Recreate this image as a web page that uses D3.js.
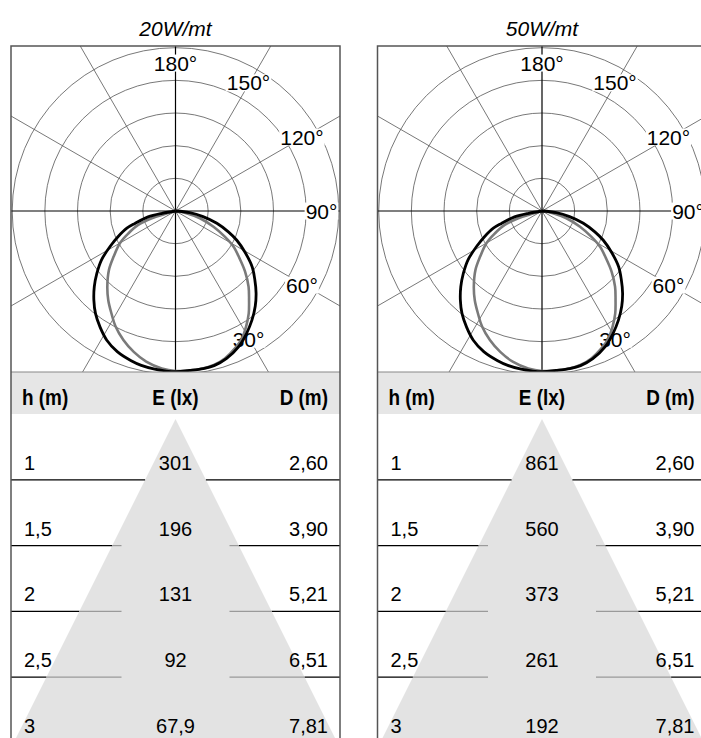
<!DOCTYPE html>
<html>
<head>
<meta charset="utf-8">
<title>Polar diagrams 20W/mt - 50W/mt</title>
<script src="https://d3js.org/d3.v7.min.js"></script>
<style>
  body { margin: 0; background: #fff; }
  svg { display: block; }
</style>
</head>
<body>
<svg id="chart" width="701" height="738"></svg>
<script>
// panel titles
var panelTitles = ["20W/mt", "50W/mt"];

// table: height, illuminance per panel, beam diameter
var heights = ["1", "1,5", "2", "2,5", "3"];
var lux20 = ["301", "196", "131", "92", "67,9"];
var lux50 = ["861", "560", "373", "261", "192"];
var diameters = ["2,60", "3,90", "5,21", "6,51", "7,81"];
var tableHeaders = ["h (m)", "E (lx)", "D (m)"];

// polar grid
var ringValues = [50, 100, 150, 200, 250];
var spokeAngles = [0, 30, 60, 90, 120, 150];
var angleLabels = [180, 150, 120, 90, 60, 30];

// photometric curves (angle in degrees from nadir, intensity)
var blackAngles = [-90, -80.5, -78, -73, -70.5, -66, -61.5, -56.5, -51.5, -47, -42.5, -38, -33, -28, -22.5, -16.5, -12.5, -7.5, 0,
                   5, 10, 14, 19, 25, 30, 35, 40, 44.5, 49, 54, 59.5, 64.5, 68.5, 73.5, 78.5, 83.5, 90];
var blackValues = [0, 21, 43, 65, 79, 96, 114, 136, 154, 170, 185, 199, 212, 224, 233, 239, 242, 244, 246,
                   245, 245, 244, 239, 229, 217, 204, 190, 176, 161, 145, 123, 104, 87, 66, 43, 22, 0];
var grayAngles = [-90, -74, -73, -69.5, -64.5, -60, -53.5, -48.5, -42, -37, -32, -27.5, -22, -16.5, -11, -5, 0,
                  4, 9, 14, 18.5, 23.5, 27.5, 31.5, 35.5, 39.5, 44, 49, 53.5, 58.5, 62.5, 67.5, 73.5, 78.5, 90];
var grayValues = [0, 17, 38, 61, 80, 98, 118, 136, 156, 171, 185, 199, 213, 225, 235, 242, 245,
                  245, 245, 243, 238, 229, 220, 207, 193, 177, 161, 141, 122, 104, 85, 63, 39, 17, 0];

var svg = d3.select("#chart");

var boxTop = 46, headTop = 372, headBottom = 414, rowH = 65.8;
var half = 164.5;
var centers = [175.5, 542];
var cy = 211;

var r = d3.scaleLinear().domain([0, 250]).range([0, 163.3]);
var rowY = d3.scaleBand().domain(heights).range([headBottom, headBottom + rowH * heights.length]);

function toRad(a) { return Math.PI - a * Math.PI / 180; }

var line = d3.lineRadial()
    .angle(function(d) { return toRad(d[0]); })
    .radius(function(d) { return r(d[1]); })
    .curve(d3.curveCatmullRom);

var blackCurve = d3.zip(blackAngles, blackValues);
var grayCurve = d3.zip(grayAngles, grayValues);

panelTitles.forEach(function(title, i) {
    var cx = centers[i];
    var left = cx - half, right = cx + half;
    var lux = i === 0 ? lux20 : lux50;
    var g = svg.append("g");

    // clip for the polar area
    svg.append("clipPath").attr("id", "clip" + i)
        .append("rect").attr("x", left).attr("y", boxTop).attr("width", half * 2).attr("height", headTop - boxTop);

    // title
    g.append("text")
        .attr("x", cx).attr("y", 36)
        .attr("text-anchor", "middle")
        .style("font-family", "'Liberation Sans', Arial, sans-serif")
        .style("font-style", "italic")
        .style("font-size", "21px")
        .text(title);

    var polar = g.append("g").attr("clip-path", "url(#clip" + i + ")")
        .append("g").attr("transform", "translate(" + cx + "," + cy + ")");

    // rings
    polar.selectAll(".ring").data(ringValues).enter().append("circle")
        .attr("r", function(d) { return r(d); })
        .style("fill", "none")
        .style("stroke", "#555")
        .style("stroke-width", 0.8);

    // spokes
    polar.selectAll(".spoke").data(spokeAngles).enter().append("line")
        .attr("x1", function(d) { return -400 * Math.sin(d * Math.PI / 180); })
        .attr("y1", function(d) { return -400 * Math.cos(d * Math.PI / 180); })
        .attr("x2", function(d) { return 400 * Math.sin(d * Math.PI / 180); })
        .attr("y2", function(d) { return 400 * Math.cos(d * Math.PI / 180); })
        .style("stroke", function(d) { return d % 90 === 0 ? "#000" : "#555"; })
        .style("stroke-width", function(d) { return d % 90 === 0 ? 1.2 : 0.8; });

    // angle labels with white background
    var lab = polar.selectAll(".lab").data(angleLabels).enter().append("g")
        .attr("transform", function(d) {
            var a = d * Math.PI / 180;
            return "translate(" + (146 * Math.sin(a)) + "," + (148 * Math.cos(a)) + ")";
        });
    var labText = lab.append("text")
        .attr("text-anchor", "middle")
        .attr("dy", "0.36em")
        .style("font-family", "'Liberation Sans', Arial, sans-serif")
        .style("font-size", "21px")
        .text(function(d) { return d + "°"; });
    labText.each(function() {
        var b = this.getBBox();
        d3.select(this.parentNode).insert("rect", "text")
            .attr("x", b.x - 1).attr("y", b.y + 3)
            .attr("width", b.width + 2).attr("height", b.height - 6)
            .style("fill", "#fff");
    });

    // curves
    polar.append("path").attr("d", line(grayCurve))
        .style("fill", "none").style("stroke", "#7a7a7a").style("stroke-width", 2.6);
    polar.append("path").attr("d", line(blackCurve))
        .style("fill", "none").style("stroke", "#000").style("stroke-width", 2.8);

    // table header
    g.append("rect").attr("x", left).attr("y", headTop)
        .attr("width", half * 2).attr("height", headBottom - headTop)
        .style("fill", "#e6e6e6");
    g.append("line").attr("x1", left).attr("x2", right).attr("y1", headTop).attr("y2", headTop)
        .style("stroke", "#888").style("stroke-width", 1.2);

    var colX = [left + 11, cx, right - 12];
    var anchors = ["start", "middle", "end"];
    g.selectAll(".hd").data(tableHeaders).enter().append("text")
        .attr("x", function(d, k) { return colX[k]; })
        .attr("y", 405)
        .attr("text-anchor", function(d, k) { return anchors[k]; })
        .style("font-family", "'Liberation Sans', Arial, sans-serif")
        .style("font-weight", "bold")
        .style("font-size", "22px")
        .text(function(d) { return d; })
        .each(function() {
            // condensed look of the original header
            var w = this.getComputedTextLength();
            d3.select(this).attr("textLength", w * 0.86).attr("lengthAdjust", "spacingAndGlyphs");
        });

    // light cone
    var apexY = 419, slope = 0.5, bottom = 738;
    g.append("path")
        .attr("d", "M" + cx + "," + apexY + "L" + (cx + (bottom - apexY) * slope) + "," + bottom +
              "L" + (cx - (bottom - apexY) * slope) + "," + bottom + "Z")
        .style("fill", "#e3e3e3");

    // row separators
    heights.slice(0, heights.length - 1).forEach(function(h) {
        var y = rowY(h) + rowY.bandwidth();
        var hw = (y - apexY) * slope;
        var segs = [[left, cx - hw, "#000"], [cx + hw, right, "#000"]];
        if (cx - hw < cx - 54) { segs.push([cx - hw, cx - 54, "#9a9a9a"]); segs.push([cx + 54, cx + hw, "#9a9a9a"]); }
        segs.forEach(function(s) {
            g.append("line").attr("x1", s[0]).attr("x2", s[1]).attr("y1", y).attr("y2", y)
                .style("stroke", s[2]).style("stroke-width", 1.2);
        });
    });

    // row values
    var rows = g.selectAll(".row").data(heights).enter().append("g")
        .attr("transform", function(d) { return "translate(0," + (rowY(d) + rowY.bandwidth() - 10) + ")"; });
    rows.append("text").attr("x", left + 13).text(function(d) { return d; });
    rows.append("text").attr("x", cx).attr("text-anchor", "middle").text(function(d, k) { return lux[k]; });
    rows.append("text").attr("x", right - 12).attr("text-anchor", "end").text(function(d, k) { return diameters[k]; });
    rows.selectAll("text")
        .style("font-family", "'Liberation Sans', Arial, sans-serif")
        .style("font-size", "20px");

    // outer border
    g.append("rect").attr("x", left).attr("y", boxTop)
        .attr("width", half * 2).attr("height", 800)
        .style("fill", "none").style("stroke", "#555").style("stroke-width", 1.5);
});
</script>
</body>
</html>
